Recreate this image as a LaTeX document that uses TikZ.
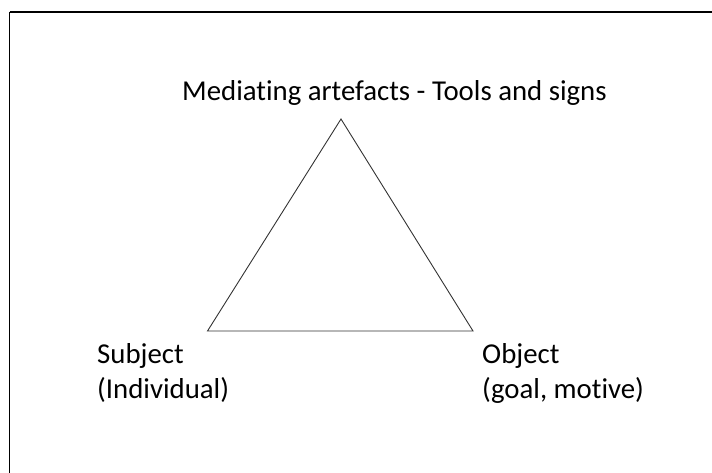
\documentclass[tikz,border=0pt]{standalone}
\usepackage{fontspec}
\setmainfont[Ligatures=NoCommon]{Carlito}
\begin{document}
\begin{tikzpicture}[x=1pt,y=-1pt,
  lbl/.style={inner sep=0pt,anchor=base west,font=\fontsize{28.8}{35}\selectfont},
  edge/.style={draw=black!80,line width=0.9pt}]
\useasboundingbox (0,0) rectangle (712,472);
% frame, running off the right and bottom edges
\draw[line width=1.8pt] (9.5,12) -- (730,12);
\draw[line width=1.8pt] (9.5,12) -- (9.5,490);
% triangle corners
\coordinate (top) at (341,119);
\coordinate (left) at (207.5,331);
\coordinate (right) at (473,331);
\draw[edge,line join=miter] (top) -- (left) -- (right) -- cycle;
% labels
\node[lbl] (med) at (182,100) {Mediating artefacts - Tools and signs};
\node[lbl] (subj) at (97,363) {Subject};
\node[lbl] (ind) at (97,398) {(Individual)};
\node[lbl] (obj) at (482,363) {Object};
\node[lbl] (goal) at (482,398) {(goal, motive)};
\end{tikzpicture}
\end{document}
